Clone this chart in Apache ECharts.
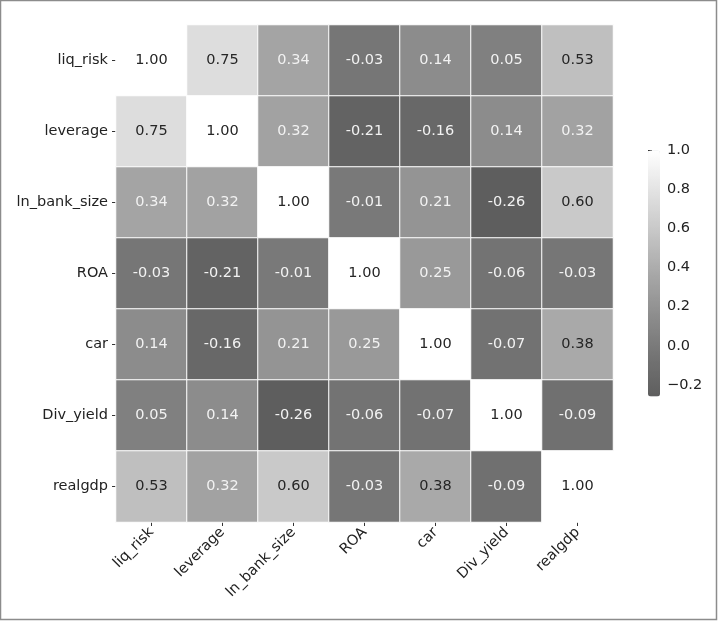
<!DOCTYPE html>
<html>
<head>
<meta charset="utf-8">
<script src="https://cdn.jsdelivr.net/npm/echarts@6/dist/echarts.min.js"></script>
<style>
html,body{margin:0;padding:0;background:#fff;}
#chart{width:718px;height:622px;}
</style>
</head>
<body>
<div id="chart"></div>
<script>
const variables = ['liq_risk','leverage','ln_bank_size','ROA','car','Div_yield','realgdp'];
const row_liq_risk     = [1.00, 0.75, 0.34, -0.03, 0.14, 0.05, 0.53];
const row_leverage     = [0.75, 1.00, 0.32, -0.21, -0.16, 0.14, 0.32];
const row_ln_bank_size = [0.34, 0.32, 1.00, -0.01, 0.21, -0.26, 0.60];
const row_ROA          = [-0.03, -0.21, -0.01, 1.00, 0.25, -0.06, -0.03];
const row_car          = [0.14, -0.16, 0.21, 0.25, 1.00, -0.07, 0.38];
const row_Div_yield    = [0.05, 0.14, -0.26, -0.06, -0.07, 1.00, -0.09];
const row_realgdp      = [0.53, 0.32, 0.60, -0.03, 0.38, -0.09, 1.00];
const colorbarTicks = [-0.2, 0.0, 0.2, 0.4, 0.6, 0.8, 1.0];

const matrix = [row_liq_risk, row_leverage, row_ln_bank_size, row_ROA, row_car, row_Div_yield, row_realgdp];
const vmin = Math.min(...matrix.flat());
const vmax = 1.0;

const data = [];
matrix.forEach((row, r) => {
  row.forEach((v, c) => {
    data.push({
      value: [c, r, v],
      label: { color: v > 0.36 ? '#262626' : '#f2f2f2' }
    });
  });
});

const font = 'DejaVu Sans';
const fs = 14.5;
const chart = echarts.init(document.getElementById('chart'), null, {renderer: 'canvas'});
chart.setOption({
  animation: false,
  backgroundColor: '#ffffff',
  graphic: [{
    type: 'rect',
    shape: {x: 0.5, y: 0.5, width: 716, height: 619},
    style: {fill: 'none', stroke: '#8c8c8c', lineWidth: 1.5},
    silent: true
  }],
  grid: [
    {left: 116, top: 25, width: 497, height: 497},
    {left: 648, top: 150.5, width: 12, height: 246}
  ],
  xAxis: [
    {
      type: 'category', data: variables, gridIndex: 0,
      axisLine: {show: false},
      axisTick: {show: true, alignWithLabel: true, length: 4, lineStyle: {color: '#333'}},
      axisLabel: {rotate: 45, margin: 8, fontFamily: font, fontSize: fs, color: '#222', interval: 0},
      splitLine: {show: false}
    },
    {
      type: 'value', gridIndex: 1, show: false, min: 0, max: 1
    }
  ],
  yAxis: [
    {
      type: 'category', data: variables, gridIndex: 0, inverse: true,
      axisLine: {show: false},
      axisTick: {show: true, alignWithLabel: true, length: 4, lineStyle: {color: '#333'}},
      axisLabel: {margin: 8, fontFamily: font, fontSize: fs, color: '#222', interval: 0},
      splitLine: {show: false}
    },
    {
      type: 'value', gridIndex: 1, position: 'right', min: vmin, max: vmax,
      axisLine: {show: false},
      axisTick: {show: true, length: 4, inside: false, customValues: colorbarTicks, lineStyle: {color: '#333'}},
      axisLabel: {
        show: true, margin: 7, fontFamily: font, fontSize: fs, color: '#222',
        customValues: colorbarTicks,
        formatter: v => (v < 0 ? '\u2212' : '') + Math.abs(v).toFixed(1)
      },
      splitLine: {show: false}
    }
  ],
  visualMap: {
    type: 'continuous',
    min: vmin, max: vmax,
    seriesIndex: 0,
    dimension: 2,
    calculable: false,
    hoverLink: false,
    orient: 'vertical',
    left: 648, top: 150.5,
    itemWidth: 12, itemHeight: 246,
    padding: 0,
    inRange: {color: ['#5e5e5e', '#747474', '#8e8e8e', '#a8a8a8', '#c6c6c6', '#e2e2e2', '#ffffff']}
  },
  series: [{
    type: 'heatmap',
    xAxisIndex: 0, yAxisIndex: 0,
    data: data,
    itemStyle: {borderColor: '#ffffff', borderWidth: 1},
    label: {
      show: true, fontFamily: font, fontSize: fs,
      formatter: p => p.value[2].toFixed(2)
    },
    emphasis: {disabled: true}
  }]
});
</script>
</body>
</html>
